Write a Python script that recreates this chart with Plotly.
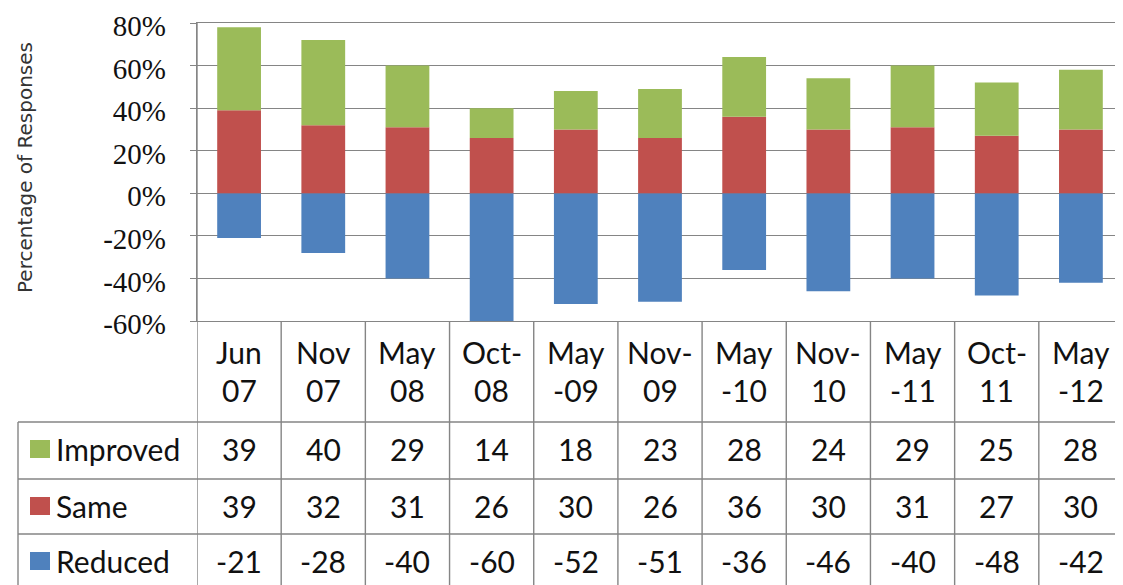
import plotly.graph_objects as go

categories = ["Jun 07", "Nov 07", "May 08", "Oct-08", "May -09", "Nov-09",
              "May -10", "Nov-10", "May -11", "Oct-11", "May -12"]
header_top = ["Jun", "Nov", "May", "Oct-", "May", "Nov-", "May", "Nov-", "May", "Oct-", "May"]
header_bottom = ["07", "07", "08", "08", "-09", "09", "-10", "10", "-11", "11", "-12"]
improved = [39, 40, 29, 14, 18, 23, 28, 24, 29, 25, 28]
same = [39, 32, 31, 26, 30, 26, 36, 30, 31, 27, 30]
reduced = [-21, -28, -40, -60, -52, -51, -36, -46, -40, -48, -42]
y_ticks = [-60, -40, -20, 0, 20, 40, 60, 80]
y_tick_labels = ["-60%", "-40%", "-20%", "0%", "20%", "40%", "60%", "80%"]

# page body has an 8px margin, so the figure is sized to fill the rest of the window
OFF = 8
W, H = 1123 - OFF, 585 - OFF
GREEN, RED, BLUE = "#9BBB59", "#C0504D", "#4F81BD"
GRID = "#858585"
TXT = "#111111"
FONT = "Lato"
SERIF = "'Liberation Serif', 'Times New Roman', 'DejaVu Serif', serif"


def py(px):
    # window pixel row -> paper y
    return 1 - (px - OFF) / H


def px_x(px):
    # window pixel column -> paper x
    return (px - OFF) / W


fig = go.Figure()
for name, vals, col in [("Reduced", reduced, BLUE), ("Same", same, RED), ("Improved", improved, GREEN)]:
    fig.add_trace(go.Bar(x=categories, y=vals, name=name, marker_color=col,
                         marker_line_width=0, width=0.52))

plot_top, plot_bot = 23, 321
# label, values, colour, text centre (px from top)
rows = [("Improved", improved, GREEN, 449),
        ("Same", same, RED, 506),
        ("Reduced", reduced, BLUE, 561)]

shapes = []
annotations = []

# column separators of the data table
for i in range(len(categories) + 1):
    y1 = py(plot_top) if i == 0 else py(plot_bot)
    shapes.append(dict(type="line", xref="x", yref="paper", x0=i - 0.5, x1=i - 0.5,
                       y0=0, y1=y1, line=dict(color=GRID, width=1.4)))
# row separators
for y in [422, 479, 534]:
    shapes.append(dict(type="line", xref="paper", yref="paper", x0=px_x(18), x1=1,
                       y0=py(y), y1=py(y), line=dict(color=GRID, width=1.4)))
shapes.append(dict(type="line", xref="paper", yref="paper", x0=px_x(18), x1=px_x(18),
                   y0=0, y1=py(422), line=dict(color=GRID, width=1.4)))

for i, cat in enumerate(categories):
    annotations.append(dict(x=cat, xref="x", y=py(352), yref="paper", yanchor="middle",
                            text=header_top[i], showarrow=False,
                            font=dict(family=FONT, size=30, color=TXT)))
    annotations.append(dict(x=cat, xref="x", y=py(390), yref="paper", yanchor="middle",
                            text=header_bottom[i], showarrow=False,
                            font=dict(family=FONT, size=30, color=TXT)))

for label, vals, col, yc in rows:
    shapes.append(dict(type="rect", xref="paper", yref="paper",
                       x0=px_x(30), x1=px_x(50), y0=py(yc + 9), y1=py(yc - 9),
                       fillcolor=col, line=dict(width=0)))
    annotations.append(dict(x=px_x(54), xref="paper", y=py(yc), yref="paper",
                            xanchor="left", yanchor="middle", text=label, showarrow=False,
                            font=dict(family=FONT, size=30, color=TXT)))
    for cat, v in zip(categories, vals):
        annotations.append(dict(x=cat, xref="x", y=py(yc), yref="paper", yanchor="middle",
                                text=str(v), showarrow=False,
                                font=dict(family=FONT, size=30, color=TXT)))

annotations.append(dict(x=px_x(25), xref="paper", y=py(168), yref="paper",
                        xanchor="center", yanchor="middle",
                        text="Percentage of Responses", textangle=-90, showarrow=False,
                        font=dict(family="DejaVu Sans", size=20, color="#333333")))

fig.update_layout(
    width=W, height=H,
    margin=dict(l=0, r=0, t=0, b=0, autoexpand=False),
    plot_bgcolor="white", paper_bgcolor="white",
    barmode="relative", showlegend=False,
    shapes=shapes, annotations=annotations,
    xaxis=dict(domain=[px_x(197), 1], showticklabels=False, showgrid=False,
               showline=True, linecolor=GRID, linewidth=1.4, mirror=True,
               range=[-0.5, len(categories) - 0.5], zeroline=False, automargin=False),
    yaxis=dict(domain=[py(plot_bot), py(plot_top)], range=[-60, 80],
               tickvals=y_ticks, ticktext=y_tick_labels, ticklabeloverflow="allow",
               showgrid=True, gridcolor=GRID, gridwidth=1.4,
               zeroline=False, showline=True, linecolor=GRID, linewidth=1.4,
               ticks="outside", ticklen=6, tickcolor=GRID, ticklabelstandoff=18,
               ticklabelshift=3, automargin=False,
               tickfont=dict(family=SERIF, size=29, color=TXT)),
)

fig.write_html("out.html")
